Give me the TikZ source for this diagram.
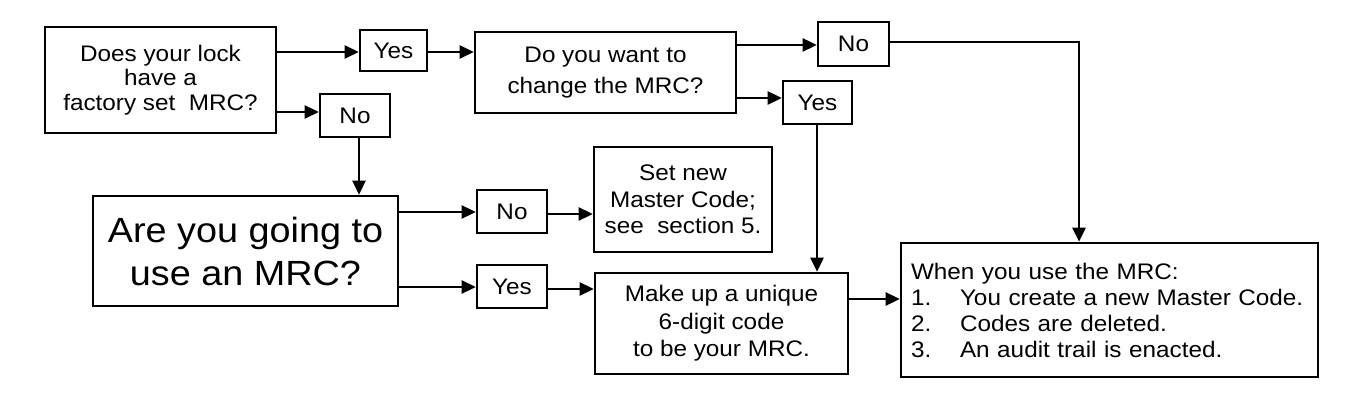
\documentclass[tikz,border=0pt]{standalone}
\usepackage{fontspec}
\setmainfont{Liberation Sans}[FakeStretch=1.08]
\usetikzlibrary{arrows.meta}
\tikzset{
  box/.style={draw, line width=2.6pt, inner sep=0pt, align=center, font=\fontsize{22.5}{26}\selectfont},
  arr/.style={line width=2.6pt, -{Triangle[length=14pt,width=13pt]}},
}
\begin{document}
\begin{tikzpicture}[x=1pt,y=-1pt]
\useasboundingbox (0,0) rectangle (1370,406);
\fill[white] (0,0) rectangle (1370,406);

\node[box, minimum width=231pt, minimum height=106pt, font=\fontsize{22.5}{24.7}\selectfont] (q1) at (160.5,80) {Does your lock\\have a\\factory set\ \ MRC?};
\node[box, minimum width=67pt, minimum height=41pt] (yes1) at (393.5,50.5) {Yes};
\node[box, minimum width=70pt, minimum height=43pt] (no1) at (355,115.5) {No};
\node[box, minimum width=261pt, minimum height=81pt, font=\fontsize{22.5}{31}\selectfont] (q2) at (605.5,72.5) {Do you want to\\change the MRC?};
\node[box, minimum width=71pt, minimum height=44pt] (no2) at (853.5,44) {No};
\node[box, minimum width=69pt, minimum height=43pt] (yes2) at (817.5,102.5) {Yes};
\node[box, minimum width=305pt, minimum height=110pt, font=\fontsize{35}{43}\selectfont] (q3) at (245.5,251) {Are you going to\\use an MRC?};
\node[box, minimum width=70pt, minimum height=43pt] (no3) at (512,211.5) {No};
\node[box, minimum width=70pt, minimum height=43pt] (yes3) at (512,286.5) {Yes};
\node[box, minimum width=178pt, minimum height=105pt, font=\fontsize{22.5}{26.5}\selectfont] (setnew) at (683,199.5) {Set new\\Master Code;\\see\ \ section 5.};
\node[box, minimum width=253pt, minimum height=101pt, font=\fontsize{22.5}{27.5}\selectfont] (makeup) at (721.5,323.5) {Make up a unique\\6-digit code\\to be your MRC.};
\node[box, text width=397pt, inner xsep=10pt, minimum height=134pt, align=left] (final) at (1109.5,310) {\mbox{When you use the MRC:}\\\mbox{\makebox[49pt][l]{1.}You create a new Master Code.}\\\mbox{\makebox[49pt][l]{2.}Codes are deleted.}\\\mbox{\makebox[49pt][l]{3.}An audit trail is enacted.}};

\draw[arr] (q1.east |- 0,52) -- (yes1.west |- 0,52);
\draw[arr] (yes1.east |- 0,52) -- (q2.west |- 0,52);
\draw[arr] (q1.east |- 0,112) -- (no1.west |- 0,112);
\draw[arr] (no1.south -| 359,0) -- (q3.north -| 359,0);
\draw[arr] (q2.east |- 0,45) -- (no2.west |- 0,45);
\draw[arr] (q2.east |- 0,98) -- (yes2.west |- 0,98);
\coordinate (c1) at (1079,42);
\draw[arr] (no2.east |- c1) -- (c1) -- (c1 |- final.north);
\draw[arr] (yes2.south -| 817,0) -- (makeup.north -| 817,0);
\draw[arr] (q3.east |- 0,212) -- (no3.west |- 0,212);
\draw[arr] (no3.east |- 0,214) -- (setnew.west |- 0,214);
\draw[arr] (q3.east |- 0,287) -- (yes3.west |- 0,287);
\draw[arr] (yes3.east |- 0,289) -- (makeup.west |- 0,289);
\draw[arr] (makeup.east |- 0,299) -- (final.west |- 0,299);
\end{tikzpicture}
\end{document}
